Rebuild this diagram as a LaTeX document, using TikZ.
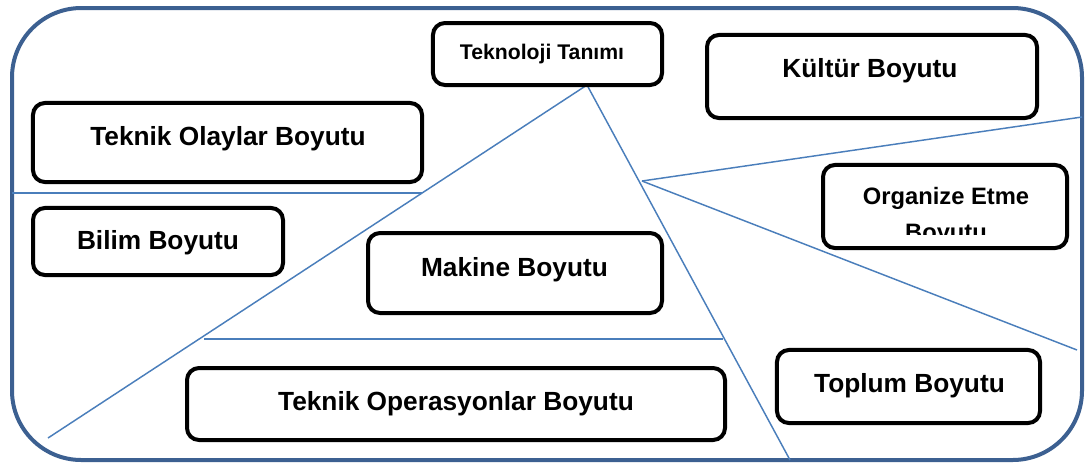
\documentclass[tikz,border=0pt]{standalone}
\usepackage[usenames,dvipsnames]{xcolor}
\usepackage{fontspec}
\setmainfont{Liberation Sans}
\usepackage{tikz}
\usetikzlibrary{calc}

\definecolor{frameblue}{RGB}{60,96,145}
\definecolor{lineblue}{RGB}{74,126,187}

\begin{document}
\begin{tikzpicture}[x=0.75pt,y=-0.75pt,
    dim/.style={draw=black,line width=3pt,rounded corners=9pt,fill=white,inner sep=0pt},
    dimtext/.style={anchor=base,inner sep=0pt,font=\bfseries\fontsize{19.7}{24}\selectfont},
    divider/.style={draw=lineblue,line width=1.1pt}]
    \useasboundingbox (0,0) rectangle (1088,465);
    \draw[frameblue,line width=3pt,rounded corners=52pt] (12,8) rectangle (1082,460);

    % split lines
    \coordinate (apex) at (587,85);
    \coordinate (fork) at (642,181);
    \coordinate (lowleft) at (48,438);
    \coordinate (lowright) at (790,460);
    \coordinate (westend) at (12,193);
    \coordinate (westcut) at (422,193);
    \coordinate (baseL) at (204,339);
    \coordinate (baseR) at (723,339);
    \coordinate (eastup) at (1082,117);
    \coordinate (eastdown) at (1077,350);
    \draw[divider] (apex) -- (lowleft);
    \draw[divider] (apex) -- (lowright);
    \draw[divider] (westend) -- (westcut);
    \draw[divider] (baseL) -- (baseR);
    \draw[divider] (fork) -- (eastup);
    \draw[divider] (fork) -- (eastdown);

    % boxes
    \node[dim,minimum width=171.8pt,minimum height=46.5pt] (tanim) at (547.5,54) {};
    \node[dim,minimum width=247.5pt,minimum height=62.3pt] (kultur) at (872,76.5) {};
    \node[dim,minimum width=291.8pt,minimum height=59.3pt] (olaylar) at (227.5,142.5) {};
    \node[dim,minimum width=187.5pt,minimum height=50.3pt] (bilim) at (158,241.5) {};
    \node[dim,minimum width=220.5pt,minimum height=60pt] (makine) at (515,273) {};
    \node[dim,minimum width=403.5pt,minimum height=54pt] (operasyon) at (456,404) {};
    \node[dim,minimum width=183pt,minimum height=62.3pt] (organize) at (945,206.5) {};
    \node[dim,minimum width=197.3pt,minimum height=54.8pt] (toplum) at (908.5,386.5) {};

    % labels
    \node[dimtext,font=\bfseries\fontsize{15.9}{19}\selectfont] (tanimtxt) at (542,59) {Teknoloji Tanımı};
    \node[dimtext] (kulturtxt) at (870,77) {Kültür Boyutu};
    \node[dimtext] (olaylartxt) at (228,145) {Teknik Olaylar Boyutu};
    \node[dimtext] (bilimtxt) at (158,249) {Bilim Boyutu};
    \node[dimtext] (makinetxt) at (514.5,276) {Makine Boyutu};
    \node[dimtext] (operasyontxt) at (456,410) {Teknik Operasyonlar Boyutu};
    \node[dimtext] (topluntxt) at (909.5,392) {Toplum Boyutu};
    \begin{scope}
        \clip (826,168) rectangle (1064,234);
        \node[dimtext,font=\bfseries\fontsize{17.8}{22}\selectfont] (organizetxt) at (946,204) {Organize Etme};
        \node[dimtext,font=\bfseries\fontsize{17.8}{22}\selectfont] (boyututxt) at (946,240) {Boyutu};
    \end{scope}
\end{tikzpicture}
\end{document}
